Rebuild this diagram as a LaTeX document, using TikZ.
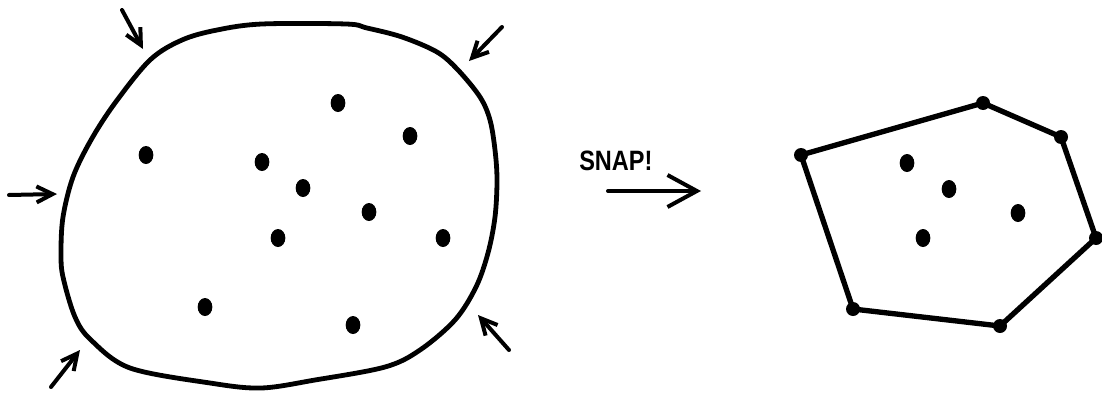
\documentclass[tikz,border=0pt]{standalone}
\usepackage{fontspec}
\usepackage{graphicx}
\setmainfont{Liberation Sans}
\usetikzlibrary{arrows.meta,shapes.geometric}
\begin{document}
\begin{tikzpicture}[x=0.75pt,y=-0.75pt,
  blobline/.style={line width=3.6pt,line join=round},
  push/.style={line width=3pt,line cap=round,-{Straight Barb[length=12pt,width=12pt,line width=3pt]}},
  snaparrow/.style={line width=3pt,line cap=round,-{Straight Barb[length=22pt,width=24pt,line width=3pt]}},
  pt/.style={fill=black,ellipse,inner sep=0pt,minimum width=11pt,minimum height=13.5pt},
  vtx/.style={circle,fill=black,inner sep=0pt,minimum size=10.5pt},
  hull/.style={line width=4pt,line join=round}]
\useasboundingbox (0,0) rectangle (1102,393);
% blob
\draw[blobline] plot[smooth cycle,tension=0.55] coordinates {
 (150,60) (182,40) (217,30) (262,24) (346,24) (367,28) (402,37) (437,52)
 (458,70) (480,97) (490,120) (495,150) (497,180) (495,217) (488,253)
 (476,287) (455,320) (420,350) (385,367) (315,380) (261,388) (210,383)
 (130,368) (91,340) (75,317) (63,277) (61,253) (63,217) (73,177)
 (91,140) (115,103)};
% squeezing arrows
\coordinate (a1s) at (122,10);  \coordinate (a1e) at (143,49);
\coordinate (a2s) at (502,27);  \coordinate (a2e) at (469,61);
\coordinate (a3s) at (9,195);   \coordinate (a3e) at (57,194);
\coordinate (a4s) at (51,387);  \coordinate (a4e) at (80,350);
\coordinate (a5s) at (509,350); \coordinate (a5e) at (478,315);
\foreach \i in {1,...,5} \draw[push] (a\i s) -- (a\i e);
% points inside blob
\foreach \p/\q [count=\k] in {338/103,410/136,146/155,262/162,303/188,369/212,278/238,443/238,205/307,353/325}
  \node[pt] (d\k) at (\p,\q) {};
% SNAP
\node[font=\bfseries,inner sep=0pt,anchor=south west] (snap) at (579,171)
  {\scalebox{0.84}[1]{\fontsize{21pt}{21pt}\selectfont SNAP!}};
\coordinate (s1) at (608,191); \coordinate (s2) at (701,191);
\draw[snaparrow] (s1) -- (s2);
% hull
\node[vtx] (h1) at (801,155) {};
\node[vtx] (h2) at (983,103) {};
\node[vtx] (h3) at (1061,137) {};
\node[vtx] (h4) at (1096,238) {};
\node[vtx] (h5) at (1000,326) {};
\node[vtx] (h6) at (853,309) {};
\draw[hull] (h1.center) -- (h2.center) -- (h3.center) -- (h4.center) -- (h5.center) -- (h6.center) -- cycle;
\node[pt] (e1) at (907,163) {};
\node[pt] (e2) at (949,189) {};
\node[pt] (e3) at (1018,213) {};
\node[pt] (e4) at (923,238) {};
\end{tikzpicture}
\end{document}
